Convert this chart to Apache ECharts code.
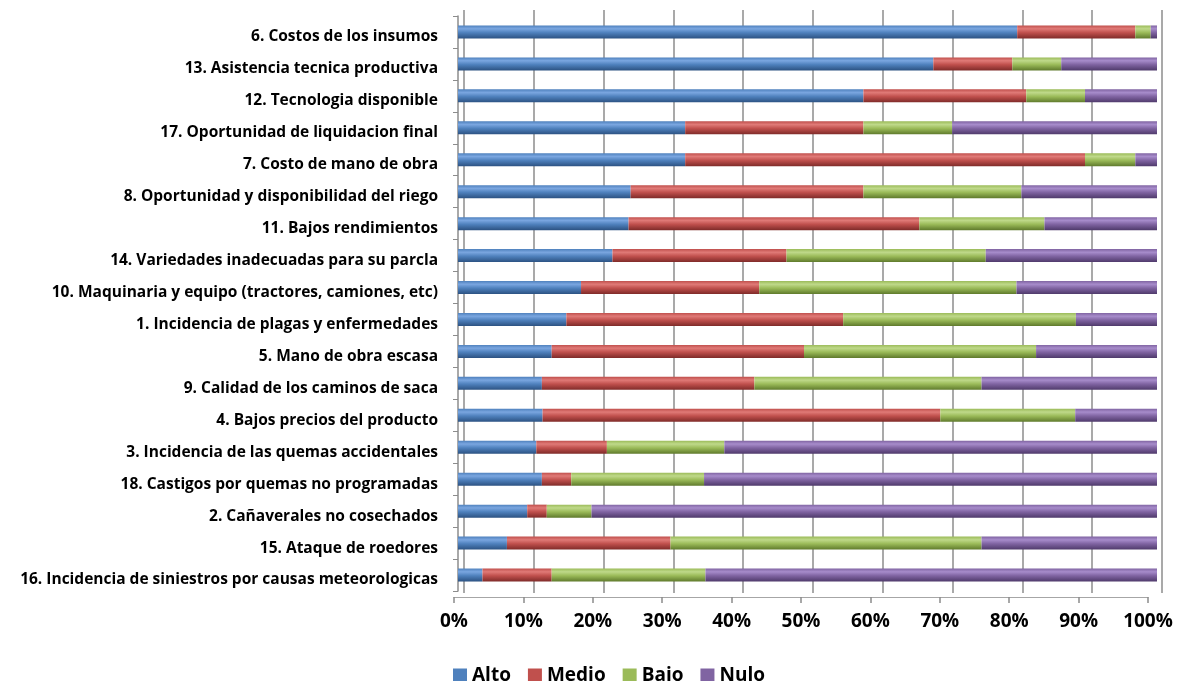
<!DOCTYPE html>
<html>
<head>
<meta charset="utf-8">
<script src="https://cdn.jsdelivr.net/npm/echarts@6/dist/echarts.min.js"></script>
<style>
  html, body { margin: 0; padding: 0; background: #fff; }
  #chart { width: 1178px; height: 681px; }
</style>
</head>
<body>
<div id="chart"></div>
<script>
// Factores que afectan la producción, de mayor a menor incidencia "Alto"
const categories = [
  '6. Costos de los insumos',
  '13. Asistencia tecnica productiva',
  '12. Tecnologia disponible',
  '17. Oportunidad de liquidacion final',
  '7. Costo de mano de obra',
  '8. Oportunidad y disponibilidad del riego',
  '11. Bajos rendimientos',
  '14. Variedades inadecuadas para su parcla',
  '10. Maquinaria y equipo (tractores, camiones, etc)',
  '1. Incidencia de plagas y enfermedades',
  '5. Mano de obra escasa',
  '9. Calidad de los caminos de saca',
  '4. Bajos precios del producto',
  '3. Incidencia de las quemas accidentales',
  '18. Castigos por quemas no programadas',
  '2. Cañaverales no cosechados',
  '15. Ataque de roedores',
  '16. Incidencia de siniestros por causas meteorologicas'
];

// Porcentaje de respuestas por nivel
const alto  = [80, 68, 58, 32.5, 32.5, 24.7, 24.4, 22.1, 17.6, 15.5, 13.4, 12, 12.1, 11.2, 12, 9.9, 7, 3.5];
const medio = [16.9, 11.3, 23.3, 25.5, 57.2, 33.3, 41.6, 24.9, 25.5, 39.6, 36.1, 30.4, 56.9, 10.1, 4.2, 2.8, 23.4, 9.9];
const bajo  = [2.2, 7, 8.4, 12.7, 7.2, 22.6, 17.9, 28.5, 36.8, 33.3, 33.2, 32.5, 19.3, 16.8, 19, 6.4, 44.5, 22];
const nulo  = [0.9, 13.7, 10.3, 29.3, 3.1, 19.4, 16.1, 24.5, 20.1, 11.6, 17.3, 25.1, 11.7, 61.9, 64.8, 80.9, 25.1, 64.6];

const seriesNames = ['Alto', 'Medio', 'Bajo', 'Nulo'];
const seriesData = [alto, medio, bajo, nulo];
const xTickMax = 100;
const xTickStep = 10;

// Base colour plus a light/dark pair to give the bars a rounded look
const palette = [
  { base: '#4F81BD', light: '#7aa6e0', dark: '#2c5282' },
  { base: '#C0504D', light: '#e07a77', dark: '#7f2b29' },
  { base: '#9BBB59', light: '#bfd98a', dark: '#5f7a2c' },
  { base: '#8064A2', light: '#a78ccb', dark: '#4f3a6b' }
];

function tube(c) {
  return new echarts.graphic.LinearGradient(0, 0, 0, 1, [
    { offset: 0, color: c.base },
    { offset: 0.25, color: c.light },
    { offset: 0.55, color: c.base },
    { offset: 1, color: c.dark }
  ]);
}

const font = '"Open Sans", "DejaVu Sans", sans-serif';
const labelStyle = { fontFamily: font, fontWeight: 'bold', color: '#000' };

const chart = echarts.init(document.getElementById('chart'), null, { renderer: 'canvas' });

chart.setOption({
  animation: false,
  backgroundColor: '#ffffff',
  legend: {
    data: seriesNames.map((name, i) => ({ name: name, itemStyle: { color: palette[i].base } })),
    left: 448,
    top: 661,
    itemWidth: 14,
    itemHeight: 14,
    itemGap: 17,
    icon: 'rect',
    textStyle: Object.assign({ fontSize: 19 }, labelStyle)
  },
  grid: [
    { left: 458, right: 21, top: 16, bottom: 90 },   // bars
    { left: 464, right: 16, top: 10, bottom: 88 },   // back wall gridlines
    { left: 454, right: 30, top: 16, bottom: 84 },   // floor edge with percent labels
    { left: 458, right: 21, top: 21, bottom: 85 }    // category names, set slightly lower on the floor
  ],
  xAxis: [
    { gridIndex: 0, type: 'value', min: 0, max: xTickMax, interval: xTickStep, show: false },
    {
      gridIndex: 1, type: 'value', min: 0, max: xTickMax, interval: xTickStep,
      axisLine: { show: false }, axisTick: { show: false }, axisLabel: { show: false },
      splitLine: { show: true, lineStyle: { color: '#8c8c8c', width: 1.5 } }
    },
    {
      gridIndex: 2, type: 'value', min: 0, max: xTickMax, interval: xTickStep,
      axisLine: { show: true, lineStyle: { color: '#a6a6a6', width: 1 } },
      axisTick: { show: true, length: 6, lineStyle: { color: '#8c8c8c', width: 1.5 } },
      splitLine: { show: false },
      axisLabel: Object.assign({ margin: 15, formatter: '{value}%', fontSize: 19 }, labelStyle)
    },
    { gridIndex: 3, type: 'value', min: 0, max: xTickMax, show: false }
  ],
  yAxis: [
    {
      gridIndex: 0, type: 'category', data: categories, inverse: true,
      offset: 2,
      axisLine: { show: true, lineStyle: { color: '#8c8c8c', width: 1.5 } },
      axisTick: { show: true, length: 5, lineStyle: { color: '#8c8c8c' } },
      axisLabel: { show: false }
    },
    { gridIndex: 1, type: 'value', show: false },
    { gridIndex: 2, type: 'value', show: false },
    {
      gridIndex: 3, type: 'category', data: categories, inverse: true,
      axisLine: { show: false }, axisTick: { show: false },
      axisLabel: Object.assign({ margin: 20, fontSize: 15.5 }, labelStyle)
    }
  ],
  series: seriesNames.map((name, i) => ({
    name: name,
    type: 'bar',
    stack: 'total',
    xAxisIndex: 0,
    yAxisIndex: 0,
    barWidth: 13,
    data: seriesData[i],
    itemStyle: { color: tube(palette[i]) },
    emphasis: { disabled: true }
  }))
});
</script>
</body>
</html>
